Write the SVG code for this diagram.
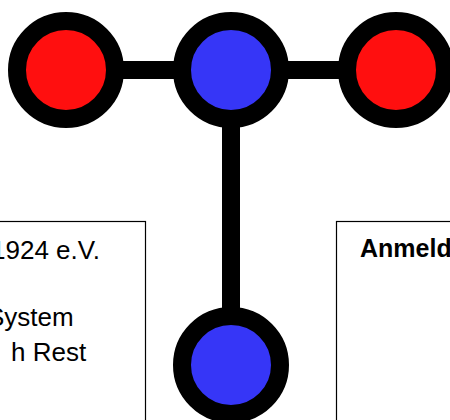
<svg xmlns="http://www.w3.org/2000/svg" width="450" height="420" viewBox="0 0 450 420">
  <style>
    .ring { stroke: #000; stroke-width: 18; }
    .red { fill: #ff0f0f; }
    .blue { fill: #3636f7; }
    .conn { stroke: #000; stroke-width: 18; fill: none; }
    .box { fill: #fff; stroke: #000; stroke-width: 1.2; }
    .t { font-family: "Liberation Sans", Arial, sans-serif; font-size: 26px; fill: #000; }
    .b { font-weight: bold; font-size: 25px; }
  </style>
  <rect width="450" height="420" fill="#fff"/>
  <g id="box-left">
    <rect class="box" x="-5" y="221.5" width="150.5" height="210"/>
    <text class="t" x="-9" y="259">1924 e.V.</text>
    <text class="t" x="-13" y="326">System</text>
    <text class="t" x="11" y="361">h Rest</text>
  </g>
  <g id="box-right">
    <rect class="box" x="336.5" y="221.5" width="130" height="210"/>
    <text class="t b" x="360" y="257">Anmeld</text>
  </g>
  <g id="connectors">
    <line class="conn" x1="66" y1="70" x2="396" y2="70"/>
    <line class="conn" x1="231" y1="70" x2="231" y2="365"/>
  </g>
  <g id="node-left">
    <circle class="ring red" cx="66" cy="70" r="49"/>
  </g>
  <g id="node-center">
    <circle class="ring blue" cx="231" cy="70" r="49"/>
  </g>
  <g id="node-right">
    <circle class="ring red" cx="396" cy="70" r="49"/>
  </g>
  <g id="node-bottom">
    <circle class="ring blue" cx="231" cy="365" r="49"/>
  </g>
</svg>
